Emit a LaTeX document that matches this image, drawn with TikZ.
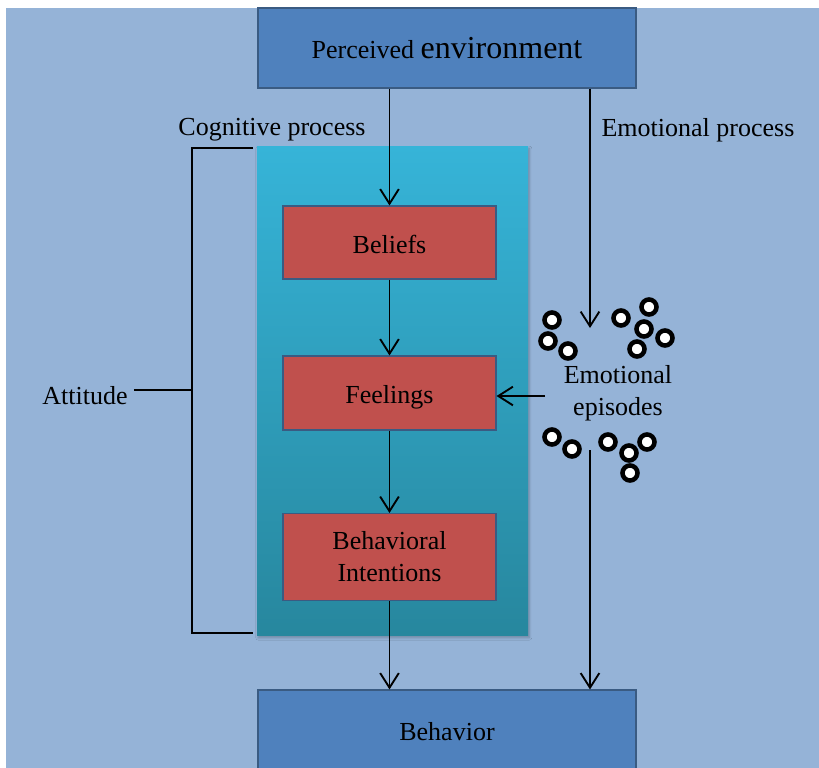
\documentclass[tikz,border=0pt]{standalone}
\usepackage{fontspec}
\setmainfont{Liberation Serif}
\usepackage{tikz}
\usetikzlibrary{positioning}
\usetikzlibrary{arrows.meta,shadows.blur}

\definecolor{bgblue}{HTML}{95B3D7}
\definecolor{boxblue}{HTML}{4F81BD}
\definecolor{boxred}{HTML}{C0504D}
\definecolor{edgeblue}{HTML}{3A5B82}
\definecolor{tealtop}{HTML}{36B4D8}
\definecolor{tealbot}{HTML}{27879E}

\tikzset{
	txt/.style={font=\fontsize{19.5pt}{24pt}\selectfont},
	oneline/.style={text height=20pt,text depth=4pt},
	bluebox/.style={txt,oneline,rectangle,draw=edgeblue,fill=boxblue,line width=0.8pt,minimum width=283.5pt,minimum height=60pt,inner sep=0pt},
	redbox/.style={txt,rectangle,draw=edgeblue,fill=boxred,line width=0.8pt,minimum width=159.75pt,inner sep=0pt,align=center},
	ring/.style={circle,draw=black,fill=white,line width=3.4pt,minimum size=11.25pt,inner sep=0pt},
	conn/.style={-{Straight Barb[length=11pt,width=14pt]},line width=1.4pt}
}

\begin{document}
\begin{tikzpicture}[x=0.75pt,y=-0.75pt]
	\useasboundingbox (0,0) rectangle (819,768);
	\fill[bgblue] (6,8) rectangle (819,768);
	% attitude panel
	\fill[top color=tealtop,bottom color=tealbot,blur shadow={shadow xshift=1pt,shadow yshift=-2pt,shadow opacity=25,shadow blur steps=8}] (257,146) rectangle (528,635);

	\node[bluebox] (env) at (447,48) {Perceived {\fontsize{24pt}{28pt}\selectfont environment}};
	\node[redbox,oneline,minimum height=54.75pt] (beliefs) at (389.5,242.5) {Beliefs};
	\node[redbox,oneline,minimum height=55.5pt] (feelings) at (389.5,393) {Feelings};
	\node[redbox,minimum height=65.25pt] (intent) at (389.5,557) {Behavioral\\Intentions};
	\node[bluebox] (behav) at (447,730) {Behavior};

	\node[txt] (cog) at (272,130) {Cognitive process};
	\node[txt] (emoproc) at (698,130) {Emotional process};
	\node[txt,align=center] (episodes) at (618,393) {Emotional\\episodes};
	\node[txt,inner sep=4.5pt] (attitude) at (85,396) {Attitude};

	\coordinate (emoin) at (590,328);
	\coordinate (emoout) at (590,450);
	\coordinate (epi) at (545,396);
	\coordinate (brtop) at (253,148);
	\coordinate (brbot) at (253,633);
	\coordinate (brmid) at (192,390);

	\draw[conn] (beliefs |- env.south) -- (beliefs);
	\draw[conn] (beliefs) -- (feelings);
	\draw[conn] (feelings) -- (intent);
	\draw[conn] (intent) -- (intent |- behav.north);
	\draw[conn] (emoin |- env.south) -- (emoin);
	\draw[conn] (emoout) -- (emoout |- behav.north);
	\draw[conn] (epi) -- (feelings.east |- epi);

	\draw[line width=1.4pt] (brtop) -| (brmid) |- (brbot);
	\draw[line width=1.4pt] (attitude.east |- brmid) -- (brmid);

	% emotional episodes
	\foreach \p [count=\i] in {(552,320),(548,341),(568,351),(621,318),(649,307),(644,329),(665,338),(637,349),
		(552,437),(572,449),(608,442),(629,453),(647,442),(630,473)}
		\node[ring] (ring\i) at \p {};
\end{tikzpicture}
\end{document}
